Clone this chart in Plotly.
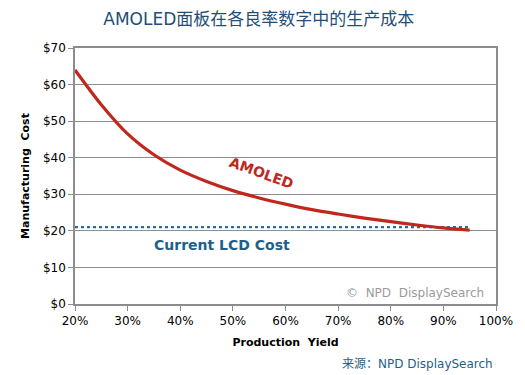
import plotly.graph_objects as go

# Data
yield_pct = [20, 25, 30, 35, 40, 45, 50, 55, 60, 65, 70, 75, 80, 85, 90, 95]
amoled_cost = [64.0, 54.5, 46.5, 40.8, 36.6, 33.5, 31.0, 29.0, 27.3, 25.8, 24.6, 23.5, 22.5, 21.6, 20.8, 20.2]
lcd_yield = [20, 95]
lcd_cost = [21.0, 21.0]

x_ticks = [20, 30, 40, 50, 60, 70, 80, 90, 100]
y_ticks = [0, 10, 20, 30, 40, 50, 60, 70]

FONT = "DejaVu Sans, Verdana, sans-serif"
CJK = "DejaVu Sans, Noto Sans CJK SC, sans-serif"
RED = "#c0281e"
BLUE = "#1f5f8b"
GRID = "#8c8c8c"

fig = go.Figure()
fig.add_trace(go.Scatter(x=lcd_yield, y=lcd_cost, mode="lines",
                         line=dict(color="#1f6fa8", width=2.2, dash="dot"),
                         hoverinfo="skip", showlegend=False))
fig.add_trace(go.Scatter(x=yield_pct, y=amoled_cost, mode="lines",
                         line=dict(color=RED, width=3.2, shape="spline", smoothing=0.8),
                         showlegend=False))

# page body has an 8px default margin, so the figure is 8px smaller
fig.update_layout(
    width=517, height=367,
    margin=dict(l=67, r=29, t=40, b=71, autoexpand=False),
    paper_bgcolor="white", plot_bgcolor="white",
    title=dict(text="AMOLED面板在各良率数字中的生产成本",
               font=dict(family=CJK, size=17, color="#1f4e79"),
               x=0.485, xref="container", xanchor="center",
               y=0.970, yref="container", yanchor="middle", automargin=False),
    font=dict(family=FONT, color="black"),
)

fig.update_xaxes(range=[20, 100], tickvals=x_ticks, ticktext=[f"{v}%" for v in x_ticks],
                 showgrid=False, zeroline=False, automargin=False,
                 showline=True, linecolor=GRID, linewidth=1.5, mirror=True,
                 ticks="outside", ticklen=5, tickcolor=GRID,
                 tickfont=dict(family=FONT, size=12, color="black"),
                 title=dict(text="<b>Production  Yield</b>",
                            font=dict(family=FONT, size=11, color="black"), standoff=11))
fig.update_yaxes(range=[0, 70], tickvals=y_ticks, ticktext=[f"${v}" for v in y_ticks],
                 showgrid=True, gridcolor=GRID, gridwidth=1.3, zeroline=False, automargin=False,
                 showline=True, linecolor=GRID, linewidth=1.5, mirror=True,
                 ticks="outside", ticklen=5, tickcolor=GRID,
                 tickfont=dict(family=FONT, size=12, color="black"),
                 title=dict(text="<b>Manufacturing  Cost</b>",
                            font=dict(family=FONT, size=11, color="black"), standoff=11))

fig.add_annotation(x=55.5, y=35.8, xref="x", yref="y", text="<b>AMOLED</b>",
                   showarrow=False, textangle=20,
                   font=dict(family=FONT, size=14, color=RED))
fig.add_annotation(x=47.9, y=16.2, xref="x", yref="y", text="<b>Current LCD Cost</b>",
                   showarrow=False, font=dict(family=FONT, size=14, color=BLUE))
fig.add_annotation(x=84.7, y=3.1, xref="x", yref="y", text="©  NPD  DisplaySearch",
                   showarrow=False, font=dict(family=FONT, size=12, color="#9a9a9a"))
fig.add_annotation(x=0.997, y=-0.233, xref="paper", yref="paper",
                   xanchor="right", yanchor="middle",
                   text="来源：NPD DisplaySearch",
                   showarrow=False, font=dict(family=CJK, size=12, color=BLUE))

fig.write_html("out.html")
